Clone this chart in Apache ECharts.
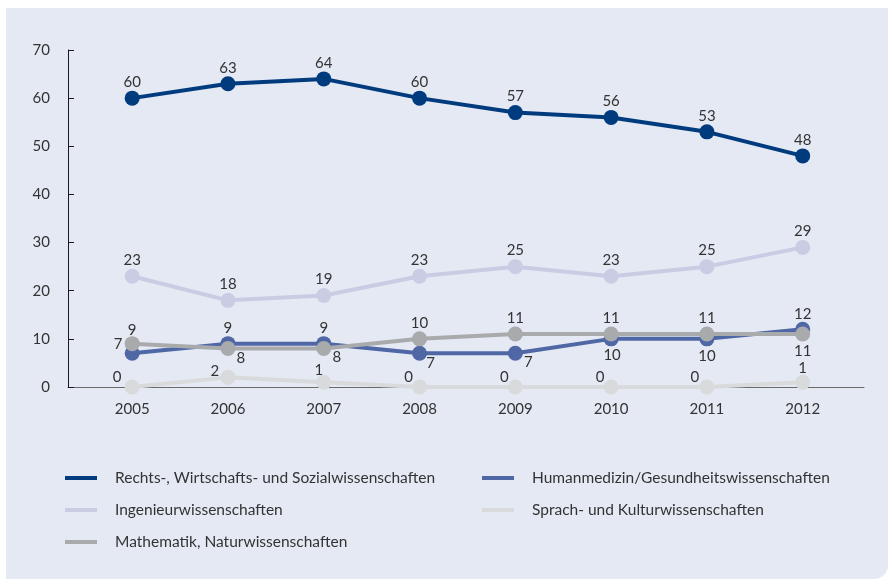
<!DOCTYPE html>
<html>
<head>
<meta charset="utf-8">
<script src="https://cdn.jsdelivr.net/npm/echarts@6/dist/echarts.min.js"></script>
<style>
html,body{margin:0;padding:0;background:#ffffff;}
#panel{position:absolute;left:6px;top:8px;width:882px;height:571px;background:#e4e9f4;border-bottom-right-radius:14px;}
#chart{position:absolute;left:0;top:0;width:888px;height:579px;}
</style>
</head>
<body>
<div id="panel"></div>
<div id="chart"></div>
<script>
// ---- data ----
const years = [2005, 2006, 2007, 2008, 2009, 2010, 2011, 2012];
const yTicks = [0, 10, 20, 30, 40, 50, 60, 70];
const seriesNames = [
  'Rechts-, Wirtschafts- und Sozialwissenschaften',
  'Humanmedizin/Gesundheitswissenschaften',
  'Ingenieurwissenschaften',
  'Sprach- und Kulturwissenschaften',
  'Mathematik, Naturwissenschaften'
];
const rechts = [60, 63, 64, 60, 57, 56, 53, 48];
const humanmedizin = [7, 9, 9, 7, 7, 10, 10, 12];
const ingenieur = [23, 18, 19, 23, 25, 23, 25, 29];
const sprach = [0, 2, 1, 0, 0, 0, 0, 1];
const mathematik = [9, 8, 8, 10, 11, 11, 11, 11];

// ---- styling (label offsets relative to point centre) ----
const up = [0, -16];
const offRechts = years.map(() => up);
const offIng = years.map(() => up);
const offHuman = [[-14, -9], up, up, [11, 10], [13, 9], [1, 16], [0, 17], [0, -15]];
const offMath = [[0, -14], [13, 10], [13, 9], up, up, up, up, [0, 17]];
const offSprach = [[-15, -10], [-13, -6], [-5, -12], [-11, -10], [-11, -10], [-11, -10], [-12, -10], [0, -14]];

const colors = ['#003b7e', '#5067a6', '#c9cde3', '#d8dadb', '#a9aaac'];
const font = 'Lato';

function mk(name, vals, offs, color) {
  return {
    name: name,
    type: 'line',
    color: color,
    symbol: 'circle',
    symbolSize: 15,
    lineStyle: { width: 4, color: color },
    itemStyle: { color: color },
    emphasis: { disabled: true },
    label: {
      show: true,
      position: 'inside',
      color: '#333333',
      fontFamily: font,
      fontSize: 15,
      formatter: p => String(p.value[1])
    },
    data: vals.map((v, i) => ({ value: [years[i], v], label: { offset: offs[i] } }))
  };
}

const legendText = { color: '#333333', fontFamily: font, fontSize: 15.5, lineHeight: 18, padding: [0, 0, 0, 13] };

const chart = echarts.init(document.getElementById('chart'));
chart.setOption({
  animation: false,
  backgroundColor: 'transparent',
  grid: { left: 68, right: 24, top: 50, bottom: 192 },
  xAxis: {
    type: 'value',
    min: 2004.33,
    max: 2012.64,
    splitLine: { show: false },
    axisTick: { show: false },
    axisLine: { show: true, lineStyle: { color: '#6a6a6a', width: 1 } },
    axisLabel: {
      customValues: years,
      formatter: v => String(v),
      color: '#333333',
      fontFamily: font,
      fontSize: 15,
      margin: 15
    }
  },
  yAxis: {
    type: 'value',
    min: 0,
    max: 70,
    interval: 10,
    splitLine: { show: false },
    axisLine: { show: true, lineStyle: { color: '#1a1a1a', width: 1 } },
    axisTick: { show: true, inside: true, length: 6, lineStyle: { color: '#1a1a1a' } },
    axisLabel: {
      customValues: yTicks,
      color: '#333333',
      fontFamily: font,
      fontSize: 15,
      margin: 18
    }
  },
  legend: [
    {
      orient: 'vertical', left: 65, top: 469, padding: 0,
      data: [seriesNames[0], seriesNames[2], seriesNames[4]],
      icon: 'rect', itemWidth: 32, itemHeight: 4, itemGap: 14,
      selectedMode: false,
      textStyle: legendText
    },
    {
      orient: 'vertical', left: 482, top: 469, padding: 0,
      data: [seriesNames[1], seriesNames[3]],
      icon: 'rect', itemWidth: 32, itemHeight: 4, itemGap: 14,
      selectedMode: false,
      textStyle: legendText
    }
  ],
  series: [
    mk(seriesNames[0], rechts, offRechts, colors[0]),
    mk(seriesNames[1], humanmedizin, offHuman, colors[1]),
    mk(seriesNames[2], ingenieur, offIng, colors[2]),
    mk(seriesNames[3], sprach, offSprach, colors[3]),
    mk(seriesNames[4], mathematik, offMath, colors[4])
  ]
});
</script>
</body>
</html>
